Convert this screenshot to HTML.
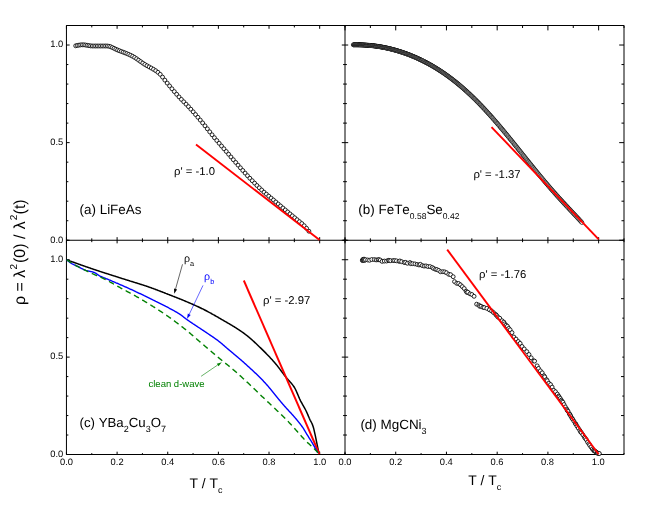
<!DOCTYPE html>
<html><head><meta charset="utf-8"><title>fig</title>
<style>html,body{margin:0;padding:0;background:#fff;}body{width:664px;height:511px;overflow:hidden;}svg{display:block;will-change:transform;}text{text-rendering:geometricPrecision;font-kerning:none;font-family:"Liberation Sans",sans-serif;fill:#000;}</style>
</head><body>
<svg width="664" height="511" viewBox="0 0 664 511">
<rect x="0" y="0" width="664" height="511" fill="#fff"/>
<defs>
<marker id="c" viewBox="-3 -3 6 6" markerWidth="6" markerHeight="6" refX="0" refY="0" markerUnits="userSpaceOnUse"><circle cx="0" cy="0" r="1.95" fill="#fff" stroke="#000" stroke-width="0.85"/></marker>
<marker id="cb" viewBox="-3 -3 6 6" markerWidth="6" markerHeight="6" refX="0" refY="0" markerUnits="userSpaceOnUse"><circle cx="0" cy="0" r="1.95" fill="#fff" stroke="#000" stroke-width="0.68"/></marker>
</defs>
<path d="M66.45 25.5H624V454.5H66.45ZM345 25.5V454.5M66.45 240.25H624M66.45 25.5v3.3M66.45 237.15v6.2M66.45 454.5v-2.8M91.77 25.5v1.9M91.77 238.35v3.8M91.77 454.5v-1.4M117.1 25.5v3.3M117.1 237.15v6.2M117.1 454.5v-2.8M142.42 25.5v1.9M142.42 238.35v3.8M142.42 454.5v-1.4M167.74 25.5v3.3M167.74 237.15v6.2M167.74 454.5v-2.8M193.06 25.5v1.9M193.06 238.35v3.8M193.06 454.5v-1.4M218.39 25.5v3.3M218.39 237.15v6.2M218.39 454.5v-2.8M243.71 25.5v1.9M243.71 238.35v3.8M243.71 454.5v-1.4M269.03 25.5v3.3M269.03 237.15v6.2M269.03 454.5v-2.8M294.35 25.5v1.9M294.35 238.35v3.8M294.35 454.5v-1.4M319.68 25.5v3.3M319.68 237.15v6.2M319.68 454.5v-2.8M345 25.5v1.9M345 238.35v3.8M345 454.5v-1.4M345 25.5v4.9M345 237.15v6.2M345 454.5v-2.8M370.36 25.5v2.5M370.36 238.35v3.8M370.36 454.5v-1.4M395.73 25.5v4.9M395.73 237.15v6.2M395.73 454.5v-2.8M421.09 25.5v2.5M421.09 238.35v3.8M421.09 454.5v-1.4M446.45 25.5v4.9M446.45 237.15v6.2M446.45 454.5v-2.8M471.82 25.5v2.5M471.82 238.35v3.8M471.82 454.5v-1.4M497.18 25.5v4.9M497.18 237.15v6.2M497.18 454.5v-2.8M522.55 25.5v2.5M522.55 238.35v3.8M522.55 454.5v-1.4M547.91 25.5v4.9M547.91 237.15v6.2M547.91 454.5v-2.8M573.27 25.5v2.5M573.27 238.35v3.8M573.27 454.5v-1.4M598.64 25.5v4.9M598.64 237.15v6.2M598.64 454.5v-2.8M624 25.5v2.5M624 238.35v3.8M624 454.5v-1.4M66.45 240.25h3.2M341.8 240.25h6.4M624 240.25h-4.8M66.45 220.73h1.9M343.1 220.73h3.8M624 220.73h-2.5M66.45 201.2h1.9M343.1 201.2h3.8M624 201.2h-2.5M66.45 181.68h1.9M343.1 181.68h3.8M624 181.68h-2.5M66.45 162.16h1.9M343.1 162.16h3.8M624 162.16h-2.5M66.45 142.64h3.2M341.8 142.64h6.4M624 142.64h-4.8M66.45 123.11h1.9M343.1 123.11h3.8M624 123.11h-2.5M66.45 103.59h1.9M343.1 103.59h3.8M624 103.59h-2.5M66.45 84.07h1.9M343.1 84.07h3.8M624 84.07h-2.5M66.45 64.55h1.9M343.1 64.55h3.8M624 64.55h-2.5M66.45 45.02h3.2M341.8 45.02h6.4M624 45.02h-4.8M66.45 25.5h1.9M343.1 25.5h3.8M624 25.5h-2.5M66.45 454.5h3.2M341.8 454.5h6.4M624 454.5h-3M66.45 435.02h1.9M343.1 435.02h3.8M624 435.02h-1.7M66.45 415.55h1.9M343.1 415.55h3.8M624 415.55h-3M66.45 396.07h1.9M343.1 396.07h3.8M624 396.07h-1.7M66.45 376.59h1.9M343.1 376.59h3.8M624 376.59h-3M66.45 357.11h3.2M341.8 357.11h6.4M624 357.11h-1.7M66.45 337.64h1.9M343.1 337.64h3.8M624 337.64h-3M66.45 318.16h1.9M343.1 318.16h3.8M624 318.16h-1.7M66.45 298.68h1.9M343.1 298.68h3.8M624 298.68h-3M66.45 279.2h1.9M343.1 279.2h3.8M624 279.2h-1.7M66.45 259.73h3.2M341.8 259.73h6.4M624 259.73h-3M66.45 240.25h1.9M343.1 240.25h3.8M624 240.25h-1.7" fill="none" stroke="#000" stroke-width="1.0"/>
<g font-size="9.33">
<text x="63.25" y="242.55" text-anchor="end">0.0</text>
<text x="63.25" y="144.94" text-anchor="end">0.5</text>
<text x="63.25" y="47.32" text-anchor="end">1.0</text>
<text x="63.25" y="456.8" text-anchor="end">0.0</text>
<text x="63.25" y="359.19" text-anchor="end">0.5</text>
<text x="63.25" y="261.57" text-anchor="end">1.0</text>
<text x="66.45" y="464.8" text-anchor="middle">0.0</text>
<text x="117.1" y="464.8" text-anchor="middle">0.2</text>
<text x="167.74" y="464.8" text-anchor="middle">0.4</text>
<text x="218.39" y="464.8" text-anchor="middle">0.6</text>
<text x="269.03" y="464.8" text-anchor="middle">0.8</text>
<text x="319.68" y="464.8" text-anchor="middle">1.0</text>
<text x="345" y="464.8" text-anchor="middle">0.0</text>
<text x="395.65" y="464.8" text-anchor="middle">0.2</text>
<text x="446.29" y="464.8" text-anchor="middle">0.4</text>
<text x="496.94" y="464.8" text-anchor="middle">0.6</text>
<text x="547.58" y="464.8" text-anchor="middle">0.8</text>
<text x="598.23" y="464.8" text-anchor="middle">1.0</text>
</g>
<g font-size="13.45">
<text x="189.5" y="487.8" font-size="13.9">T / T<tspan font-size="9" dy="4.7">c</tspan></text>
<text x="468.2" y="484.8" font-size="13.9">T / T<tspan font-size="9" dy="4.7">c</tspan></text>
<text transform="translate(25.3,305.1) rotate(-90)" font-size="16">ρ = λ<tspan font-size="10" dy="-8.4" dx="0.3">2</tspan><tspan dy="8.4" dx="0.8">(0) /</tspan><tspan dx="1.0"> λ</tspan><tspan font-size="10" dy="-8.4" dx="0.9">2</tspan><tspan dy="8.4" dx="0.3">(t)</tspan></text>
<text x="79.5" y="213.5">(a) LiFeAs</text>
<text x="358.3" y="214">(b) FeTe<tspan font-size="8.5" dy="4.8">0.58</tspan><tspan dy="-4.8">Se</tspan><tspan font-size="8.5" dy="4.8">0.42</tspan></text>
<text x="79.5" y="427.1" font-size="13.25">(c) YBa<tspan font-size="9" dy="4.8">2</tspan><tspan dy="-4.8">Cu</tspan><tspan font-size="9" dy="4.8">3</tspan><tspan dy="-4.8">O</tspan><tspan font-size="9" dy="4.8">7</tspan></text>
<text x="360.4" y="429.3">(d) MgCNi<tspan font-size="9" dy="4.8">3</tspan></text>
</g>
<polyline points="75.7,45.8 77.36,45.42 79.02,45.12 80.67,44.91 82.33,44.81 83.99,44.84 85.65,45.04 87.31,45.33 88.96,45.63 90.62,45.88 92.28,46 93.94,46 95.6,46 97.25,46 98.91,46 100.57,46 102.23,46 103.89,46 105.54,46 107.21,46 108.89,46.22 110.59,46.74 112.31,47.48 114.05,48.33 115.82,49.21 117.6,50.02 119.4,50.72 121.23,51.42 123.07,52.12 124.94,52.84 126.83,53.6 128.74,54.41 130.67,55.29 132.63,56.27 134.61,57.42 136.61,58.73 138.63,60.15 140.68,61.62 142.76,63.08 144.85,64.45 146.97,65.7 149.12,66.88 151.29,68.05 153.49,69.3 155.71,70.69 157.96,72.32 160.23,74.36 162.53,77.08 164.86,80.13 167.21,83.12 169.58,85.94 171.94,88.77 174.3,91.56 176.66,94.29 179.02,96.91 181.38,99.39 183.74,101.8 186.11,104.2 188.47,106.64 190.83,109.2 193.19,111.84 195.55,114.55 197.91,117.3 200.27,120.09 202.64,122.93 205,125.84 207.36,128.83 209.72,131.84 212.08,134.82 214.44,137.71 216.8,140.52 219.17,143.29 221.53,146.02 223.89,148.74 226.25,151.47 228.61,154.22 230.97,156.98 233.33,159.72 235.7,162.44 238.06,165.14 240.42,167.81 242.78,170.48 245.14,173.13 247.5,175.72 249.86,178.25 252.23,180.71 254.59,183.13 256.95,185.5 259.31,187.8 261.67,190.02 264.03,192.15 266.39,194.17 268.76,196.13 271.12,198.06 273.48,200.01 275.84,202 278.2,204 280.56,205.99 282.92,207.99 285.29,209.97 287.65,211.94 290.01,213.89 292.37,215.84 294.73,217.78 297.09,219.72 299.45,221.65 301.82,223.54 304.18,225.75 306.54,228.32 308.9,231.2" fill="none" stroke="none" marker-start="url(#c)" marker-mid="url(#c)" marker-end="url(#c)"/>
<polyline points="353.3,44.82 353.64,44.81 353.98,44.81 354.32,44.81 354.66,44.8 355,44.8 355.34,44.8 355.68,44.8 356.02,44.8 356.36,44.8 356.71,44.8 357.05,44.81 357.39,44.81 357.74,44.81 358.08,44.82 358.43,44.82 358.78,44.83 359.13,44.84 359.47,44.84 359.82,44.85 360.17,44.86 360.52,44.87 360.87,44.88 361.23,44.89 361.58,44.91 361.93,44.92 362.29,44.93 362.64,44.95 363,44.96 363.35,44.98 363.71,45 364.07,45.01 364.43,45.03 364.79,45.05 365.15,45.08 365.51,45.1 365.87,45.12 366.23,45.14 366.6,45.17 366.96,45.19 367.33,45.22 367.69,45.25 368.06,45.28 368.43,45.31 368.79,45.34 369.16,45.37 369.53,45.4 369.9,45.44 370.28,45.47 370.65,45.51 371.02,45.55 371.4,45.58 371.77,45.62 372.15,45.66 372.52,45.7 372.9,45.75 373.28,45.79 373.66,45.84 374.04,45.88 374.42,45.93 374.8,45.98 375.19,46.03 375.57,46.08 375.95,46.13 376.34,46.18 376.73,46.24 377.11,46.3 377.5,46.35 377.89,46.41 378.28,46.47 378.67,46.53 379.07,46.59 379.46,46.66 379.85,46.72 380.25,46.79 380.64,46.85 381.04,46.92 381.44,46.99 381.84,47.06 382.23,47.14 382.63,47.21 383.04,47.29 383.44,47.36 383.84,47.44 384.25,47.52 384.65,47.6 385.06,47.69 385.46,47.77 385.87,47.85 386.28,47.94 386.69,48.03 387.1,48.12 387.51,48.21 387.93,48.3 388.34,48.4 388.75,48.49 389.17,48.59 389.59,48.69 390,48.79 390.42,48.89 390.84,48.99 391.26,49.1 391.68,49.21 392.11,49.31 392.53,49.42 392.95,49.54 393.38,49.65 393.81,49.76 394.23,49.88 394.66,50 395.09,50.12 395.52,50.24 395.95,50.36 396.39,50.49 396.82,50.61 397.25,50.74 397.69,50.87 398.12,51 398.56,51.14 399,51.27 399.44,51.41 399.88,51.55 400.32,51.69 400.76,51.83 401.21,51.97 401.65,52.12 402.1,52.27 402.55,52.42 402.99,52.57 403.44,52.72 403.89,52.88 404.34,53.03 404.79,53.19 405.25,53.35 405.7,53.52 406.16,53.68 406.61,53.85 407.07,54.02 407.53,54.19 407.99,54.36 408.45,54.54 408.91,54.71 409.37,54.89 409.83,55.07 410.3,55.26 410.76,55.44 411.23,55.63 411.7,55.82 412.16,56.01 412.63,56.2 413.1,56.4 413.58,56.6 414.05,56.8 414.52,57 415,57.21 415.47,57.42 415.95,57.63 416.43,57.84 416.91,58.05 417.39,58.27 417.87,58.49 418.35,58.71 418.84,58.93 419.32,59.16 419.81,59.39 420.29,59.62 420.78,59.85 421.27,60.09 421.76,60.33 422.25,60.57 422.74,60.81 423.24,61.06 423.73,61.31 424.23,61.56 424.72,61.81 425.22,62.07 425.72,62.33 426.22,62.59 426.72,62.85 427.22,63.12 427.73,63.39 428.23,63.66 428.74,63.94 429.24,64.22 429.75,64.5 430.26,64.78 430.77,65.07 431.28,65.36 431.79,65.65 432.3,65.95 432.82,66.25 433.33,66.55 433.85,66.86 434.37,67.16 434.89,67.48 435.41,67.79 435.93,68.11 436.45,68.43 436.97,68.75 437.5,69.08 438.02,69.41 438.55,69.74 439.08,70.08 439.61,70.42 440.14,70.76 440.67,71.11 441.2,71.46 441.73,71.81 442.27,72.17 442.8,72.53 443.34,72.89 443.88,73.26 444.42,73.63 444.96,74.01 445.5,74.38 446.04,74.77 446.58,75.15 447.13,75.54 447.68,75.93 448.22,76.33 448.77,76.73 449.32,77.13 449.87,77.54 450.42,77.95 450.98,78.37 451.53,78.78 452.08,79.21 452.64,79.63 453.2,80.06 453.76,80.5 454.32,80.94 454.88,81.38 455.44,81.83 456,82.28 456.57,82.73 457.13,83.19 457.7,83.65 458.27,84.12 458.84,84.59 459.41,85.07 459.98,85.55 460.55,86.03 461.12,86.52 461.7,87.01 462.28,87.51 462.85,88.01 463.43,88.51 464.01,89.02 464.59,89.54 465.17,90.06 465.76,90.58 466.34,91.1 466.93,91.64 467.51,92.17 468.1,92.71 468.69,93.26 469.28,93.81 469.87,94.36 470.46,94.92 471.06,95.48 471.65,96.05 472.25,96.62 472.85,97.2 473.44,97.78 474.04,98.36 474.64,98.95 475.25,99.55 475.85,100.15 476.45,100.75 477.06,101.36 477.67,101.97 478.28,102.59 478.88,103.21 479.49,103.84 480.11,104.47 480.72,105.11 481.33,105.75 481.95,106.39 482.56,107.04 483.18,107.7 483.8,108.36 484.42,109.02 485.04,109.69 485.67,110.36 486.29,111.04 486.91,111.72 487.54,112.41 488.17,113.1 488.8,113.79 489.43,114.49 490.06,115.19 490.69,115.9 491.32,116.61 491.96,117.33 492.59,118.05 493.23,118.78 493.87,119.51 494.51,120.24 495.15,120.98 495.79,121.72 496.43,122.47 497.08,123.22 497.72,123.97 498.37,124.73 499.02,125.49 499.67,126.26 500.32,127.03 500.97,127.81 501.62,128.58 502.28,129.37 502.93,130.15 503.59,130.94 504.25,131.73 504.9,132.53 505.56,133.33 506.23,134.13 506.89,134.94 507.55,135.75 508.22,136.56 508.88,137.38 509.55,138.2 510.22,139.02 510.89,139.84 511.56,140.67 512.24,141.5 512.91,142.34 513.58,143.17 514.26,144.01 514.94,144.85 515.62,145.7 516.3,146.54 516.98,147.39 517.66,148.24 518.35,149.1 519.03,149.95 519.72,150.81 520.4,151.67 521.09,152.53 521.78,153.39 522.47,154.25 523.17,155.12 523.86,155.98 524.56,156.85 525.25,157.72 525.95,158.59 526.65,159.46 527.35,160.33 528.05,161.21 528.75,162.08 529.46,162.95 530.16,163.83 530.87,164.7 531.58,165.58 532.29,166.45 533,167.33 533.71,168.21 534.42,169.08 535.13,169.96 535.85,170.83 536.57,171.71 537.28,172.58 538,173.46 538.72,174.33 539.44,175.2 540.17,176.08 540.89,176.95 541.62,177.82 542.34,178.69 543.07,179.56 543.8,180.42 544.53,181.29 545.26,182.16 546,183.02 546.73,183.88 547.47,184.74 548.2,185.6 548.94,186.46 549.68,187.31 550.42,188.17 551.16,189.02 551.91,189.87 552.65,190.72 553.4,191.57 554.14,192.42 554.89,193.26 555.64,194.1 556.39,194.94 557.15,195.78 557.9,196.62 558.65,197.46 559.41,198.29 560.17,199.13 560.93,199.96 561.69,200.79 562.45,201.62 563.21,202.45 563.97,203.27 564.74,204.1 565.51,204.93 566.27,205.75 567.04,206.58 567.81,207.4 568.58,208.22 569.36,209.05 570.13,209.88 570.91,210.7 571.68,211.53 572.46,212.36 573.24,213.19 574.02,214.02 574.8,214.85 575.59,215.69 576.37,216.53 577.16,217.37 577.94,218.22 578.73,219.07 579.52,219.93 580.31,220.79 581.11,221.66 581.9,222.53" fill="none" stroke="none" marker-start="url(#cb)" marker-mid="url(#cb)" marker-end="url(#cb)"/>
<polyline points="362.4,260.57 362.7,259.9 363,259.37 363.4,259.72 363.7,260.17 364,259.11 364.6,260.41 365.45,259.71 367.66,259.95 369.53,260.25 371.74,259.52 374.29,259.57 376.16,259.92 378.03,259.82 378.88,259.6 380.24,260.04 382.11,261.37 384.32,261.08 386.53,261.04 388.4,260.36 389.25,260.61 390.61,260.69 393.16,260.56 394.52,260.57 396.39,260.81 398.94,261.32 399.79,260.97 401.66,261.71 404.21,262.51 405.57,262.37 407.44,263.26 409.99,262.55 410.84,263.76 412.71,263.69 414.92,263.89 417.13,264.45 419,264.96 420.36,264.34 422.23,265.57 424.1,266.08 425.97,265.89 427.84,266.51 430.05,266.58 432.26,267.46 433.62,268.53 435.49,269.28 436.85,269.54 438.72,270.39 440.59,271.76 442.8,271.68 444.67,271.88 446.54,272.74 448.75,274.3 450.62,274.67 453.17,276.7 454.53,281.63 456.74,283.34 458.61,283.51 460.48,284.85 462.35,286.63 464.22,288.52 466.09,291.14 466.94,292.43 467.79,292.17 470,293.83 471.87,294.51 474.08,296.31 476.63,304.19 478.84,305.07 479.69,306.3 481.05,306.27 482.92,307.27 484.28,307.6 486.83,308.38 489.38,309.8 491.59,310.92 493.46,312.53 495.67,314.43 496.52,315.35 497.88,317.04 499.75,318.24 501.96,320.74 503.83,322.08 504.68,323.87 506.04,325.17 507.4,326.27 508.76,328.39 510.12,329.82 511.99,332.62 513.86,337.01 516.07,339.11 518.28,341.5 520.15,343.37 522.02,346.46 524.23,348.97 526.78,351.62 528.99,354.5 531.2,357.81 533.75,360.86 534.6,361.12 537.15,365.85 538.51,368.41 540.38,370.81 542.2,372.83 544.02,375.82 544.72,376.87 546.54,379.66 547.24,380.73 548.78,383.21 550.6,384.58 552.14,387.09 553.68,390.29 555.5,391.73 557.32,394.07 558.62,396.06 559.12,396.88 560.22,398.44 561.32,400.16 561.82,401.35 562.92,402.17 564.02,404.55 565.32,406.94 566.82,409.12 567.32,410.5 568.12,411.44 569.42,413.92 569.92,414.46 570.72,416 571.82,417.99 572.62,419.11 573.92,421.16 575.42,423.64 575.92,424.22 577.02,426.21 578.32,428.17 579.82,430.33 580.62,431.98 581.42,432.7 582.92,434.84 584.42,437.17 585.22,438.3 586.32,439.68 587.62,442.15 588.92,443.82 589.72,445.23 591.02,447.02 592.32,448.94 593.42,450.2 594.22,450.91 594.72,451.05 595.52,451.51 596.82,452.6 597.32,453.05 597.82,453.27 598.92,453.44 599.3,453.57" fill="none" stroke="none" marker-start="url(#c)" marker-mid="url(#c)" marker-end="url(#c)"/>
<path d="M66.8 259.8 L67.31 259.99 L67.81 260.17 L68.32 260.36 L68.82 260.54 L69.33 260.73 L69.83 260.92 L70.34 261.1 L70.84 261.29 L71.35 261.47 L71.85 261.65 L72.36 261.84 L72.86 262.02 L73.37 262.21 L73.87 262.39 L74.38 262.57 L74.88 262.75 L75.39 262.94 L75.89 263.12 L76.4 263.3 L76.9 263.48 L77.41 263.66 L77.91 263.84 L78.42 264.02 L78.93 264.2 L79.43 264.38 L79.94 264.56 L80.44 264.74 L80.95 264.92 L81.45 265.1 L81.96 265.28 L82.46 265.45 L82.97 265.63 L83.47 265.81 L83.98 265.99 L84.48 266.16 L84.99 266.34 L85.49 266.51 L86 266.69 L86.5 266.86 L87.01 267.04 L87.51 267.21 L88.02 267.39 L88.52 267.56 L89.03 267.73 L89.53 267.91 L90.04 268.08 L90.54 268.25 L91.05 268.42 L91.56 268.59 L92.06 268.76 L92.57 268.94 L93.07 269.11 L93.58 269.27 L94.08 269.44 L94.59 269.61 L95.09 269.78 L95.6 269.95 L96.1 270.12 L96.61 270.28 L97.11 270.45 L97.62 270.62 L98.12 270.78 L98.63 270.95 L99.13 271.12 L99.64 271.28 L100.14 271.45 L100.65 271.61 L101.15 271.78 L101.66 271.94 L102.16 272.1 L102.67 272.27 L103.18 272.43 L103.68 272.6 L104.19 272.76 L104.69 272.92 L105.2 273.09 L105.7 273.25 L106.21 273.41 L106.71 273.57 L107.22 273.74 L107.72 273.9 L108.23 274.06 L108.73 274.22 L109.24 274.38 L109.74 274.55 L110.25 274.71 L110.75 274.87 L111.26 275.03 L111.76 275.19 L112.27 275.36 L112.77 275.52 L113.28 275.68 L113.78 275.84 L114.29 276 L114.79 276.16 L115.3 276.33 L115.81 276.49 L116.31 276.65 L116.82 276.81 L117.32 276.97 L117.83 277.14 L118.33 277.3 L118.84 277.46 L119.34 277.62 L119.85 277.79 L120.35 277.95 L120.86 278.11 L121.36 278.27 L121.87 278.43 L122.37 278.59 L122.88 278.75 L123.38 278.91 L123.89 279.07 L124.39 279.23 L124.9 279.39 L125.4 279.55 L125.91 279.71 L126.41 279.86 L126.92 280.02 L127.43 280.18 L127.93 280.33 L128.44 280.49 L128.94 280.65 L129.45 280.8 L129.95 280.96 L130.46 281.11 L130.96 281.27 L131.47 281.42 L131.97 281.58 L132.48 281.74 L132.98 281.89 L133.49 282.05 L133.99 282.2 L134.5 282.36 L135 282.52 L135.51 282.67 L136.01 282.83 L136.52 282.99 L137.02 283.15 L137.53 283.3 L138.03 283.46 L138.54 283.62 L139.05 283.78 L139.55 283.94 L140.06 284.1 L140.56 284.26 L141.07 284.42 L141.57 284.58 L142.08 284.75 L142.58 284.91 L143.09 285.07 L143.59 285.24 L144.1 285.4 L144.6 285.57 L145.11 285.74 L145.61 285.9 L146.12 286.07 L146.62 286.24 L147.13 286.41 L147.63 286.58 L148.14 286.76 L148.64 286.93 L149.15 287.1 L149.65 287.28 L150.16 287.46 L150.66 287.63 L151.17 287.81 L151.68 287.99 L152.18 288.18 L152.69 288.36 L153.19 288.54 L153.7 288.73 L154.2 288.92 L154.71 289.11 L155.21 289.29 L155.72 289.49 L156.22 289.68 L156.73 289.87 L157.23 290.06 L157.74 290.25 L158.24 290.45 L158.75 290.64 L159.25 290.84 L159.76 291.03 L160.26 291.23 L160.77 291.43 L161.27 291.63 L161.78 291.82 L162.28 292.02 L162.79 292.22 L163.3 292.42 L163.8 292.61 L164.31 292.81 L164.81 293.01 L165.32 293.21 L165.82 293.41 L166.33 293.6 L166.83 293.8 L167.34 294 L167.84 294.19 L168.35 294.39 L168.85 294.59 L169.36 294.78 L169.86 294.98 L170.37 295.18 L170.87 295.37 L171.38 295.57 L171.88 295.76 L172.39 295.96 L172.89 296.16 L173.4 296.35 L173.9 296.55 L174.41 296.75 L174.92 296.94 L175.42 297.14 L175.93 297.34 L176.43 297.54 L176.94 297.74 L177.44 297.94 L177.95 298.14 L178.45 298.34 L178.96 298.54 L179.46 298.74 L179.97 298.95 L180.47 299.15 L180.98 299.36 L181.48 299.56 L181.99 299.77 L182.49 299.97 L183 300.18 L183.5 300.39 L184.01 300.6 L184.51 300.81 L185.02 301.02 L185.52 301.24 L186.03 301.45 L186.53 301.66 L187.04 301.88 L187.55 302.09 L188.05 302.31 L188.56 302.52 L189.06 302.74 L189.57 302.96 L190.07 303.17 L190.58 303.39 L191.08 303.61 L191.59 303.83 L192.09 304.05 L192.6 304.27 L193.1 304.49 L193.61 304.72 L194.11 304.94 L194.62 305.16 L195.12 305.39 L195.63 305.62 L196.13 305.85 L196.64 306.08 L197.14 306.31 L197.65 306.54 L198.15 306.77 L198.66 307.01 L199.17 307.25 L199.67 307.49 L200.18 307.73 L200.68 307.97 L201.19 308.21 L201.69 308.46 L202.2 308.7 L202.7 308.95 L203.21 309.2 L203.71 309.45 L204.22 309.71 L204.72 309.97 L205.23 310.23 L205.73 310.49 L206.24 310.75 L206.74 311.02 L207.25 311.28 L207.75 311.55 L208.26 311.82 L208.76 312.1 L209.27 312.37 L209.77 312.65 L210.28 312.92 L210.78 313.2 L211.29 313.48 L211.8 313.76 L212.3 314.05 L212.81 314.33 L213.31 314.62 L213.82 314.9 L214.32 315.19 L214.83 315.48 L215.33 315.77 L215.84 316.06 L216.34 316.35 L216.85 316.64 L217.35 316.93 L217.86 317.22 L218.36 317.51 L218.87 317.81 L219.37 318.1 L219.88 318.4 L220.38 318.69 L220.89 318.99 L221.39 319.28 L221.9 319.57 L222.4 319.86 L222.91 320.16 L223.42 320.45 L223.92 320.74 L224.43 321.03 L224.93 321.32 L225.44 321.62 L225.94 321.91 L226.45 322.2 L226.95 322.49 L227.46 322.79 L227.96 323.08 L228.47 323.38 L228.97 323.67 L229.48 323.97 L229.98 324.27 L230.49 324.56 L230.99 324.86 L231.5 325.17 L232 325.47 L232.51 325.77 L233.01 326.08 L233.52 326.39 L234.02 326.7 L234.53 327.01 L235.04 327.32 L235.54 327.64 L236.05 327.96 L236.55 328.28 L237.06 328.6 L237.56 328.93 L238.07 329.26 L238.57 329.59 L239.08 329.92 L239.58 330.26 L240.09 330.6 L240.59 330.95 L241.1 331.29 L241.6 331.64 L242.11 332 L242.61 332.36 L243.12 332.72 L243.62 333.08 L244.13 333.45 L244.63 333.83 L245.14 334.2 L245.64 334.59 L246.15 334.98 L246.65 335.38 L247.16 335.78 L247.67 336.18 L248.17 336.6 L248.68 337.01 L249.18 337.43 L249.69 337.86 L250.19 338.29 L250.7 338.73 L251.2 339.17 L251.71 339.61 L252.21 340.06 L252.72 340.51 L253.22 340.97 L253.73 341.43 L254.23 341.89 L254.74 342.36 L255.24 342.83 L255.75 343.3 L256.25 343.77 L256.76 344.25 L257.26 344.73 L257.77 345.22 L258.27 345.7 L258.78 346.19 L259.29 346.68 L259.79 347.17 L260.3 347.66 L260.8 348.15 L261.31 348.65 L261.81 349.14 L262.32 349.64 L262.82 350.14 L263.33 350.64 L263.83 351.14 L264.34 351.63 L264.84 352.14 L265.35 352.64 L265.85 353.15 L266.36 353.66 L266.86 354.18 L267.37 354.7 L267.87 355.22 L268.38 355.75 L268.88 356.28 L269.39 356.81 L269.89 357.35 L270.4 357.89 L270.91 358.44 L271.41 358.99 L271.92 359.55 L272.42 360.11 L272.93 360.67 L273.43 361.24 L273.94 361.82 L274.44 362.4 L274.95 362.98 L275.45 363.57 L275.96 364.17 L276.46 364.77 L276.97 365.4 L277.47 366.03 L277.98 366.67 L278.48 367.33 L278.99 367.99 L279.49 368.66 L280 369.33 L280.5 370.01 L281.01 370.69 L281.51 371.37 L282.02 372.06 L282.52 372.74 L283.03 373.42 L283.54 374.09 L284.04 374.76 L284.55 375.42 L285.05 376.07 L285.56 376.72 L286.06 377.35 L286.57 377.95 L287.07 378.54 L287.58 379.11 L288.08 379.67 L288.59 380.23 L289.09 380.78 L289.6 381.33 L290.1 381.88 L290.61 382.45 L291.11 383.03 L291.62 383.63 L292.12 384.25 L292.63 384.9 L293.13 385.58 L293.64 386.29 L294.14 387.04 L294.65 387.84 L295.16 388.74 L295.66 389.74 L296.17 390.81 L296.67 391.95 L297.18 393.13 L297.68 394.33 L298.19 395.55 L298.69 396.75 L299.2 397.92 L299.7 399.05 L300.21 400.11 L300.71 401.11 L301.22 402.06 L301.72 402.98 L302.23 403.88 L302.73 404.76 L303.24 405.64 L303.74 406.52 L304.25 407.41 L304.75 408.31 L305.26 409.25 L305.76 410.22 L306.27 411.24 L306.77 412.33 L307.28 413.47 L307.79 414.65 L308.29 415.84 L308.8 417.04 L309.3 418.21 L309.81 419.33 L310.31 420.36 L310.82 421.32 L311.32 422.27 L311.83 423.27 L312.33 424.38 L312.84 425.65 L313.34 427.19 L313.85 429.13 L314.35 431.32 L314.86 433.61 L315.36 435.91 L315.87 438.35 L316.37 440.89 L316.88 443.44 L317.38 445.9 L317.89 448.3 L318.39 450.67 L318.9 453" fill="none" stroke="#000" stroke-width="1.5"/>
<path d="M243.8 280.5L319.4 454" stroke="#ff0000" stroke-width="1.9" fill="none"/>
<path d="M66.8 259.8 L67.3 260.26 L67.81 260.7 L68.31 261.14 L68.81 261.56 L69.32 261.96 L69.82 262.34 L70.32 262.68 L70.82 263 L71.33 263.3 L71.83 263.59 L72.33 263.86 L72.84 264.12 L73.34 264.37 L73.84 264.62 L74.35 264.85 L74.85 265.09 L75.35 265.32 L75.85 265.54 L76.36 265.77 L76.86 266.01 L77.36 266.24 L77.87 266.48 L78.37 266.74 L78.87 266.99 L79.38 267.26 L79.88 267.53 L80.38 267.8 L80.88 268.08 L81.39 268.35 L81.89 268.62 L82.39 268.88 L82.9 269.14 L83.4 269.38 L83.9 269.62 L84.41 269.84 L84.91 270.05 L85.41 270.23 L85.91 270.4 L86.42 270.56 L86.92 270.7 L87.42 270.83 L87.93 270.94 L88.43 271.06 L88.93 271.16 L89.44 271.26 L89.94 271.37 L90.44 271.47 L90.94 271.57 L91.45 271.68 L91.95 271.8 L92.45 271.92 L92.96 272.06 L93.46 272.21 L93.96 272.37 L94.47 272.55 L94.97 272.76 L95.47 273.03 L95.97 273.35 L96.48 273.7 L96.98 274.08 L97.48 274.45 L97.99 274.82 L98.49 275.17 L98.99 275.49 L99.5 275.76 L100 276.01 L100.5 276.26 L101 276.5 L101.51 276.73 L102.01 276.96 L102.51 277.18 L103.02 277.39 L103.52 277.61 L104.02 277.81 L104.53 278.02 L105.03 278.22 L105.53 278.42 L106.03 278.61 L106.54 278.81 L107.04 279.01 L107.54 279.21 L108.05 279.41 L108.55 279.62 L109.05 279.83 L109.56 280.04 L110.06 280.25 L110.56 280.47 L111.06 280.68 L111.57 280.9 L112.07 281.11 L112.57 281.33 L113.08 281.54 L113.58 281.75 L114.08 281.97 L114.59 282.18 L115.09 282.4 L115.59 282.61 L116.09 282.83 L116.6 283.04 L117.1 283.26 L117.6 283.47 L118.11 283.69 L118.61 283.91 L119.11 284.13 L119.62 284.34 L120.12 284.56 L120.62 284.78 L121.12 285.01 L121.63 285.23 L122.13 285.45 L122.63 285.67 L123.14 285.89 L123.64 286.12 L124.14 286.34 L124.65 286.56 L125.15 286.78 L125.65 287.01 L126.15 287.23 L126.66 287.46 L127.16 287.68 L127.66 287.91 L128.17 288.14 L128.67 288.36 L129.17 288.59 L129.68 288.82 L130.18 289.04 L130.68 289.27 L131.18 289.5 L131.69 289.73 L132.19 289.96 L132.69 290.19 L133.2 290.43 L133.7 290.66 L134.2 290.89 L134.71 291.12 L135.21 291.36 L135.71 291.59 L136.21 291.83 L136.72 292.06 L137.22 292.3 L137.72 292.54 L138.23 292.78 L138.73 293.02 L139.23 293.26 L139.74 293.5 L140.24 293.74 L140.74 293.98 L141.24 294.22 L141.75 294.47 L142.25 294.71 L142.75 294.95 L143.26 295.2 L143.76 295.44 L144.26 295.69 L144.77 295.93 L145.27 296.18 L145.77 296.43 L146.27 296.67 L146.78 296.92 L147.28 297.17 L147.78 297.41 L148.29 297.66 L148.79 297.91 L149.29 298.15 L149.8 298.4 L150.3 298.65 L150.8 298.89 L151.31 299.14 L151.81 299.39 L152.31 299.63 L152.81 299.88 L153.32 300.12 L153.82 300.37 L154.32 300.61 L154.83 300.86 L155.33 301.1 L155.83 301.35 L156.34 301.59 L156.84 301.84 L157.34 302.09 L157.84 302.33 L158.35 302.58 L158.85 302.83 L159.35 303.08 L159.86 303.33 L160.36 303.58 L160.86 303.83 L161.37 304.08 L161.87 304.33 L162.37 304.59 L162.87 304.84 L163.38 305.1 L163.88 305.36 L164.38 305.61 L164.89 305.87 L165.39 306.13 L165.89 306.4 L166.4 306.66 L166.9 306.93 L167.4 307.19 L167.9 307.46 L168.41 307.73 L168.91 308 L169.41 308.27 L169.92 308.54 L170.42 308.8 L170.92 309.07 L171.43 309.34 L171.93 309.62 L172.43 309.89 L172.93 310.17 L173.44 310.44 L173.94 310.72 L174.44 311 L174.95 311.29 L175.45 311.58 L175.95 311.87 L176.46 312.16 L176.96 312.46 L177.46 312.77 L177.96 313.07 L178.47 313.38 L178.97 313.7 L179.47 314.02 L179.98 314.35 L180.48 314.69 L180.98 315.04 L181.49 315.4 L181.99 315.78 L182.49 316.16 L182.99 316.55 L183.5 316.94 L184 317.33 L184.5 317.72 L185.01 318.11 L185.51 318.5 L186.01 318.88 L186.52 319.25 L187.02 319.61 L187.52 319.97 L188.02 320.32 L188.53 320.67 L189.03 321.02 L189.53 321.37 L190.04 321.71 L190.54 322.05 L191.04 322.39 L191.55 322.73 L192.05 323.07 L192.55 323.4 L193.05 323.74 L193.56 324.07 L194.06 324.4 L194.56 324.73 L195.07 325.06 L195.57 325.39 L196.07 325.72 L196.58 326.05 L197.08 326.38 L197.58 326.71 L198.08 327.05 L198.59 327.38 L199.09 327.71 L199.59 328.04 L200.1 328.38 L200.6 328.71 L201.1 329.05 L201.61 329.39 L202.11 329.73 L202.61 330.07 L203.11 330.41 L203.62 330.76 L204.12 331.1 L204.62 331.44 L205.13 331.78 L205.63 332.11 L206.13 332.45 L206.64 332.79 L207.14 333.12 L207.64 333.46 L208.14 333.79 L208.65 334.13 L209.15 334.46 L209.65 334.8 L210.16 335.14 L210.66 335.48 L211.16 335.82 L211.67 336.16 L212.17 336.5 L212.67 336.85 L213.17 337.19 L213.68 337.54 L214.18 337.89 L214.68 338.24 L215.19 338.6 L215.69 338.96 L216.19 339.32 L216.7 339.69 L217.2 340.06 L217.7 340.43 L218.2 340.81 L218.71 341.19 L219.21 341.57 L219.71 341.96 L220.22 342.36 L220.72 342.76 L221.22 343.17 L221.73 343.6 L222.23 344.04 L222.73 344.49 L223.23 344.94 L223.74 345.39 L224.24 345.84 L224.74 346.28 L225.25 346.71 L225.75 347.14 L226.25 347.58 L226.76 348 L227.26 348.43 L227.76 348.86 L228.26 349.28 L228.77 349.71 L229.27 350.13 L229.77 350.55 L230.28 350.98 L230.78 351.4 L231.28 351.82 L231.79 352.24 L232.29 352.66 L232.79 353.08 L233.29 353.5 L233.8 353.92 L234.3 354.34 L234.8 354.76 L235.31 355.18 L235.81 355.6 L236.31 356.03 L236.82 356.45 L237.32 356.88 L237.82 357.3 L238.33 357.73 L238.83 358.16 L239.33 358.59 L239.83 359.02 L240.34 359.45 L240.84 359.88 L241.34 360.32 L241.85 360.76 L242.35 361.2 L242.85 361.64 L243.36 362.09 L243.86 362.54 L244.36 362.99 L244.86 363.44 L245.37 363.89 L245.87 364.34 L246.37 364.8 L246.88 365.25 L247.38 365.7 L247.88 366.16 L248.39 366.62 L248.89 367.07 L249.39 367.53 L249.89 367.99 L250.4 368.45 L250.9 368.91 L251.4 369.37 L251.91 369.83 L252.41 370.3 L252.91 370.77 L253.42 371.23 L253.92 371.7 L254.42 372.18 L254.92 372.65 L255.43 373.13 L255.93 373.61 L256.43 374.09 L256.94 374.57 L257.44 375.06 L257.94 375.55 L258.45 376.04 L258.95 376.54 L259.45 377.03 L259.95 377.53 L260.46 378.04 L260.96 378.55 L261.46 379.06 L261.97 379.57 L262.47 380.09 L262.97 380.61 L263.48 381.14 L263.98 381.67 L264.48 382.21 L264.98 382.75 L265.49 383.3 L265.99 383.86 L266.49 384.42 L267 384.99 L267.5 385.57 L268 386.15 L268.51 386.74 L269.01 387.34 L269.51 387.93 L270.01 388.54 L270.52 389.14 L271.02 389.75 L271.52 390.36 L272.03 390.98 L272.53 391.6 L273.03 392.22 L273.54 392.84 L274.04 393.46 L274.54 394.09 L275.04 394.71 L275.55 395.34 L276.05 395.96 L276.55 396.59 L277.06 397.21 L277.56 397.83 L278.06 398.45 L278.57 399.07 L279.07 399.69 L279.57 400.3 L280.07 400.91 L280.58 401.52 L281.08 402.13 L281.58 402.73 L282.09 403.32 L282.59 403.91 L283.09 404.5 L283.6 405.08 L284.1 405.65 L284.6 406.22 L285.1 406.78 L285.61 407.34 L286.11 407.89 L286.61 408.44 L287.12 408.99 L287.62 409.53 L288.12 410.07 L288.63 410.61 L289.13 411.15 L289.63 411.69 L290.13 412.23 L290.64 412.77 L291.14 413.32 L291.64 413.87 L292.15 414.42 L292.65 414.97 L293.15 415.54 L293.66 416.1 L294.16 416.68 L294.66 417.26 L295.16 417.84 L295.67 418.44 L296.17 419.04 L296.67 419.65 L297.18 420.25 L297.68 420.86 L298.18 421.48 L298.69 422.1 L299.19 422.72 L299.69 423.36 L300.19 424 L300.7 424.66 L301.2 425.33 L301.7 426.02 L302.21 426.72 L302.71 427.43 L303.21 428.17 L303.72 428.94 L304.22 429.77 L304.72 430.63 L305.22 431.51 L305.73 432.39 L306.23 433.25 L306.73 434.08 L307.24 434.89 L307.74 435.69 L308.24 436.48 L308.75 437.26 L309.25 438.04 L309.75 438.83 L310.25 439.62 L310.76 440.42 L311.26 441.24 L311.76 442.07 L312.27 442.92 L312.77 443.79 L313.27 444.67 L313.78 445.55 L314.28 446.45 L314.78 447.35 L315.28 448.27 L315.79 449.2 L316.29 450.13 L316.79 451.08 L317.3 452.03 L317.8 453" fill="none" stroke="#0000ff" stroke-width="1.4"/>
<path d="M66.8 259.8 L67.3 260.15 L67.81 260.49 L68.31 260.83 L68.82 261.17 L69.32 261.51 L69.83 261.84 L70.33 262.17 L70.84 262.5 L71.34 262.82 L71.84 263.14 L72.35 263.46 L72.85 263.77 L73.36 264.08 L73.86 264.38 L74.37 264.68 L74.87 264.97 L75.37 265.26 L75.88 265.54 L76.38 265.82 L76.89 266.09 L77.39 266.37 L77.9 266.63 L78.4 266.9 L78.91 267.16 L79.41 267.43 L79.91 267.68 L80.42 267.94 L80.92 268.19 L81.43 268.45 L81.93 268.7 L82.44 268.95 L82.94 269.19 L83.45 269.44 L83.95 269.68 L84.45 269.92 L84.96 270.17 L85.46 270.41 L85.97 270.65 L86.47 270.89 L86.98 271.12 L87.48 271.36 L87.99 271.6 L88.49 271.84 L88.99 272.08 L89.5 272.32 L90 272.55 L90.51 272.79 L91.01 273.03 L91.52 273.26 L92.02 273.49 L92.52 273.72 L93.03 273.94 L93.53 274.17 L94.04 274.39 L94.54 274.61 L95.05 274.83 L95.55 275.05 L96.06 275.27 L96.56 275.49 L97.06 275.7 L97.57 275.92 L98.07 276.14 L98.58 276.36 L99.08 276.58 L99.59 276.8 L100.09 277.02 L100.6 277.25 L101.1 277.47 L101.6 277.7 L102.11 277.93 L102.61 278.16 L103.12 278.4 L103.62 278.63 L104.13 278.88 L104.63 279.12 L105.14 279.37 L105.64 279.62 L106.14 279.88 L106.65 280.13 L107.15 280.4 L107.66 280.66 L108.16 280.93 L108.67 281.2 L109.17 281.48 L109.67 281.76 L110.18 282.03 L110.68 282.32 L111.19 282.6 L111.69 282.88 L112.2 283.17 L112.7 283.45 L113.21 283.74 L113.71 284.03 L114.21 284.32 L114.72 284.61 L115.22 284.9 L115.73 285.18 L116.23 285.47 L116.74 285.76 L117.24 286.05 L117.75 286.33 L118.25 286.62 L118.75 286.9 L119.26 287.18 L119.76 287.46 L120.27 287.74 L120.77 288.01 L121.28 288.29 L121.78 288.56 L122.28 288.83 L122.79 289.11 L123.29 289.38 L123.8 289.65 L124.3 289.92 L124.81 290.19 L125.31 290.46 L125.82 290.73 L126.32 291 L126.82 291.27 L127.33 291.54 L127.83 291.81 L128.34 292.08 L128.84 292.35 L129.35 292.62 L129.85 292.9 L130.36 293.17 L130.86 293.44 L131.36 293.72 L131.87 293.99 L132.37 294.27 L132.88 294.55 L133.38 294.83 L133.89 295.11 L134.39 295.39 L134.9 295.67 L135.4 295.96 L135.9 296.24 L136.41 296.53 L136.91 296.82 L137.42 297.11 L137.92 297.4 L138.43 297.69 L138.93 297.98 L139.43 298.27 L139.94 298.56 L140.44 298.86 L140.95 299.15 L141.45 299.45 L141.96 299.74 L142.46 300.04 L142.97 300.34 L143.47 300.64 L143.97 300.94 L144.48 301.24 L144.98 301.54 L145.49 301.84 L145.99 302.15 L146.5 302.45 L147 302.76 L147.51 303.07 L148.01 303.37 L148.51 303.68 L149.02 303.99 L149.52 304.3 L150.03 304.62 L150.53 304.93 L151.04 305.24 L151.54 305.56 L152.05 305.87 L152.55 306.19 L153.05 306.51 L153.56 306.82 L154.06 307.14 L154.57 307.46 L155.07 307.78 L155.58 308.1 L156.08 308.42 L156.58 308.75 L157.09 309.07 L157.59 309.4 L158.1 309.72 L158.6 310.05 L159.11 310.38 L159.61 310.71 L160.12 311.04 L160.62 311.37 L161.12 311.7 L161.63 312.04 L162.13 312.37 L162.64 312.71 L163.14 313.05 L163.65 313.39 L164.15 313.73 L164.66 314.07 L165.16 314.41 L165.66 314.76 L166.17 315.11 L166.67 315.46 L167.18 315.81 L167.68 316.16 L168.19 316.51 L168.69 316.87 L169.19 317.22 L169.7 317.58 L170.2 317.94 L170.71 318.3 L171.21 318.66 L171.72 319.03 L172.22 319.39 L172.73 319.76 L173.23 320.13 L173.73 320.5 L174.24 320.87 L174.74 321.24 L175.25 321.62 L175.75 322 L176.26 322.37 L176.76 322.75 L177.27 323.13 L177.77 323.52 L178.27 323.9 L178.78 324.28 L179.28 324.67 L179.79 325.06 L180.29 325.45 L180.8 325.84 L181.3 326.23 L181.81 326.62 L182.31 327.02 L182.81 327.41 L183.32 327.81 L183.82 328.21 L184.33 328.61 L184.83 329.01 L185.34 329.41 L185.84 329.81 L186.34 330.22 L186.85 330.63 L187.35 331.05 L187.86 331.46 L188.36 331.88 L188.87 332.3 L189.37 332.73 L189.88 333.15 L190.38 333.58 L190.88 334.01 L191.39 334.44 L191.89 334.87 L192.4 335.3 L192.9 335.74 L193.41 336.17 L193.91 336.61 L194.42 337.05 L194.92 337.48 L195.42 337.92 L195.93 338.36 L196.43 338.8 L196.94 339.24 L197.44 339.68 L197.95 340.12 L198.45 340.56 L198.96 340.99 L199.46 341.43 L199.96 341.87 L200.47 342.3 L200.97 342.74 L201.48 343.17 L201.98 343.6 L202.49 344.03 L202.99 344.46 L203.49 344.89 L204 345.32 L204.5 345.75 L205.01 346.18 L205.51 346.61 L206.02 347.04 L206.52 347.47 L207.03 347.9 L207.53 348.33 L208.03 348.76 L208.54 349.19 L209.04 349.62 L209.55 350.05 L210.05 350.48 L210.56 350.91 L211.06 351.34 L211.57 351.77 L212.07 352.2 L212.57 352.63 L213.08 353.06 L213.58 353.49 L214.09 353.91 L214.59 354.34 L215.1 354.77 L215.6 355.19 L216.11 355.62 L216.61 356.04 L217.11 356.46 L217.62 356.89 L218.12 357.31 L218.63 357.73 L219.13 358.15 L219.64 358.57 L220.14 358.99 L220.64 359.4 L221.15 359.82 L221.65 360.23 L222.16 360.63 L222.66 361.04 L223.17 361.45 L223.67 361.85 L224.18 362.25 L224.68 362.65 L225.18 363.05 L225.69 363.45 L226.19 363.85 L226.7 364.26 L227.2 364.66 L227.71 365.06 L228.21 365.47 L228.72 365.87 L229.22 366.28 L229.72 366.69 L230.23 367.11 L230.73 367.52 L231.24 367.94 L231.74 368.37 L232.25 368.79 L232.75 369.22 L233.25 369.66 L233.76 370.09 L234.26 370.53 L234.77 370.96 L235.27 371.4 L235.78 371.85 L236.28 372.29 L236.79 372.73 L237.29 373.18 L237.79 373.63 L238.3 374.08 L238.8 374.53 L239.31 374.98 L239.81 375.44 L240.32 375.89 L240.82 376.35 L241.33 376.81 L241.83 377.27 L242.33 377.73 L242.84 378.19 L243.34 378.65 L243.85 379.11 L244.35 379.57 L244.86 380.04 L245.36 380.5 L245.87 380.97 L246.37 381.44 L246.87 381.91 L247.38 382.38 L247.88 382.85 L248.39 383.33 L248.89 383.8 L249.4 384.28 L249.9 384.76 L250.4 385.24 L250.91 385.72 L251.41 386.2 L251.92 386.68 L252.42 387.17 L252.93 387.65 L253.43 388.14 L253.94 388.62 L254.44 389.11 L254.94 389.59 L255.45 390.08 L255.95 390.57 L256.46 391.05 L256.96 391.54 L257.47 392.03 L257.97 392.51 L258.48 393 L258.98 393.49 L259.48 393.97 L259.99 394.46 L260.49 394.95 L261 395.43 L261.5 395.92 L262.01 396.4 L262.51 396.88 L263.02 397.37 L263.52 397.85 L264.02 398.33 L264.53 398.81 L265.03 399.29 L265.54 399.76 L266.04 400.24 L266.55 400.71 L267.05 401.19 L267.55 401.66 L268.06 402.13 L268.56 402.61 L269.07 403.08 L269.57 403.55 L270.08 404.02 L270.58 404.49 L271.09 404.96 L271.59 405.44 L272.09 405.91 L272.6 406.38 L273.1 406.85 L273.61 407.32 L274.11 407.79 L274.62 408.27 L275.12 408.74 L275.63 409.22 L276.13 409.69 L276.63 410.17 L277.14 410.65 L277.64 411.13 L278.15 411.61 L278.65 412.09 L279.16 412.57 L279.66 413.05 L280.16 413.54 L280.67 414.03 L281.17 414.52 L281.68 415.01 L282.18 415.5 L282.69 416 L283.19 416.5 L283.7 417 L284.2 417.5 L284.7 418 L285.21 418.51 L285.71 419.02 L286.22 419.53 L286.72 420.05 L287.23 420.57 L287.73 421.09 L288.24 421.61 L288.74 422.13 L289.24 422.66 L289.75 423.2 L290.25 423.73 L290.76 424.27 L291.26 424.81 L291.77 425.36 L292.27 425.91 L292.78 426.47 L293.28 427.03 L293.78 427.59 L294.29 428.16 L294.79 428.72 L295.3 429.29 L295.8 429.86 L296.31 430.42 L296.81 430.99 L297.31 431.55 L297.82 432.11 L298.32 432.67 L298.83 433.24 L299.33 433.81 L299.84 434.38 L300.34 434.95 L300.85 435.53 L301.35 436.1 L301.85 436.67 L302.36 437.24 L302.86 437.8 L303.37 438.35 L303.87 438.9 L304.38 439.44 L304.88 439.97 L305.39 440.49 L305.89 440.99 L306.39 441.49 L306.9 441.97 L307.4 442.45 L307.91 442.92 L308.41 443.38 L308.92 443.84 L309.42 444.3 L309.93 444.75 L310.43 445.2 L310.93 445.66 L311.44 446.11 L311.94 446.57 L312.45 447.04 L312.95 447.5 L313.46 447.98 L313.96 448.46 L314.46 448.95 L314.97 449.45 L315.47 449.94 L315.98 450.45 L316.48 450.95 L316.99 451.46 L317.49 451.97 L318 452.48 L318.5 453" fill="none" stroke="#008000" stroke-width="1.4" stroke-dasharray="5.7 3.8"/>
<g stroke="#ff0000" stroke-width="1.9" fill="none">
<path d="M196 144.6L319.6 239.9"/>
<path d="M491.5 127.1L598.7 239.4"/>
<path d="M447.2 249.6L598.6 454.2"/>
</g>
<path d="M182.5 264.3L175.55 288.99" stroke="#000" stroke-width="0.6" fill="none"/><path d="M174.2 293.8L174.01 288.55L177.09 289.42Z" fill="#000"/>
<path d="M203 285.4L189.25 314.29" stroke="#0000ff" stroke-width="0.6" fill="none"/><path d="M187.1 318.8L187.8 313.6L190.69 314.97Z" fill="#0000ff"/>
<path d="M201.1 376.3L217.67 365.01" stroke="#008000" stroke-width="0.6" fill="none"/><path d="M221.8 362.2L218.57 366.34L216.77 363.69Z" fill="#008000"/>
<g font-size="11.3">
<text x="174" y="174.7">ρ' = -1.0</text>
<text x="473.4" y="178.3">ρ' = -1.37</text>
<text x="263" y="304">ρ' = -2.97</text>
<text x="479" y="277.9">ρ' = -1.76</text>
<text x="183.9" y="262" font-size="10.6">ρ<tspan font-size="7.3" dy="3.5">a</tspan></text>
<text x="204.1" y="280.1" font-size="10.6" style="fill:#0000ff">ρ<tspan font-size="7.3" dy="4">b</tspan></text>
</g>
<text x="148.5" y="386.5" font-size="9.5" style="fill:#008000">clean d-wave</text>
</svg></body></html>
